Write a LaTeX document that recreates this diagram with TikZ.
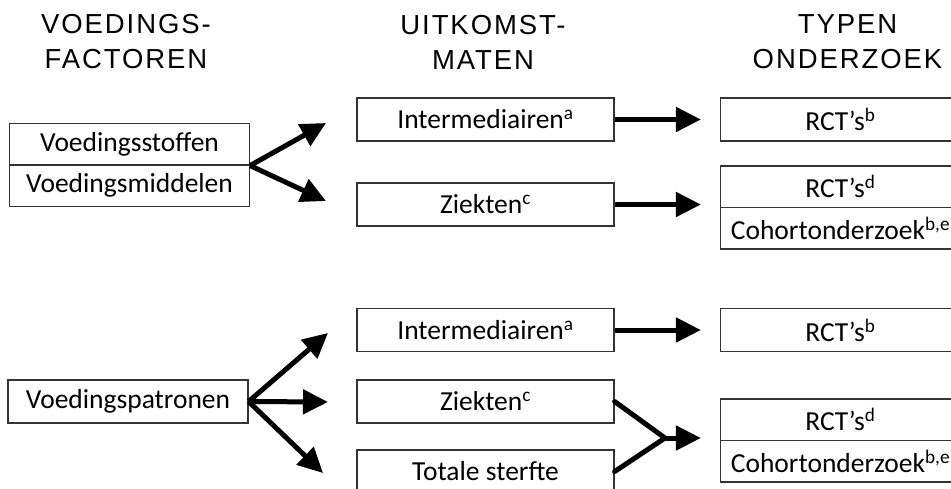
\documentclass[tikz,border=0pt]{standalone}
\usepackage{fontspec}
\usetikzlibrary{arrows.meta,positioning}
\newfontfamily\boxfont{Carlito}
\newfontfamily\headfont[LetterSpace=7]{Liberation Sans}

\begin{document}
\begin{tikzpicture}[x=1pt, y=-1pt,
  every node/.style={align=center, inner sep=0pt},
  head/.style={font=\headfont\fontsize{27.5}{35}\selectfont},
  box/.style={draw=black!80, line width=1.2pt, minimum height=43pt, font=\boxfont\fontsize{27.5}{32}\selectfont},
  halfbox/.style={box, minimum height=41.5pt},
  leftbox/.style={minimum width=240pt},
  midbox/.style={minimum width=257pt},
  rightbox/.style={minimum width=240pt},
  arr/.style={line width=5pt, -{Triangle[length=25pt,width=24pt]}},
  link/.style={line width=5pt, line cap=round}]
\useasboundingbox (0,0) rectangle (951,488);

% Column headings
\node[head] (hfactor) at (126,42) {VOEDINGS-\\FACTOREN};
\node[head] (hmaten) at (483,42) {UITKOMST-\\MATEN};
\node[head] (htypen) at (847.5,42) {TYPEN\\ONDERZOEK};

% Upper block
\node[halfbox, leftbox] (stoffen) at (129.5,144.25) {Voedingsstoffen};
\node[halfbox, leftbox] (middelen) at (129.5,185.75) {Voedingsmiddelen};
\node[box, midbox] (inter1) at (485.5,119.5) {Intermediairen\textsuperscript{a}};
\node[box, midbox] (ziek1) at (485.5,204.5) {Ziekten\textsuperscript{c}};
\node[box, rightbox] (rctb1) at (840.5,119.5) {RCT’s\textsuperscript{b}};
\node[halfbox, rightbox] (rctd1) at (840.5,186.75) {RCT’s\textsuperscript{d}};
\node[halfbox, rightbox] (cohort1) at (840.5,228.25) {Cohortonderzoek\textsuperscript{b,e}};

% Lower block
\node[box, leftbox] (patronen) at (128,401.5) {Voedingspatronen};
\node[box, midbox] (inter2) at (485.5,330) {Intermediairen\textsuperscript{a}};
\node[box, midbox] (ziek2) at (485.5,401.5) {Ziekten\textsuperscript{c}};
\node[box, midbox] (totaal) at (485.5,471.5) {Totale sterfte};
\node[box, rightbox] (rctb2) at (840.5,330) {RCT’s\textsuperscript{b}};
\node[halfbox, rightbox] (rctd2) at (840.5,419.75) {RCT’s\textsuperscript{d}};
\node[halfbox, rightbox] (cohort2) at (840.5,461.25) {Cohortonderzoek\textsuperscript{b,e}};

% Arrow ends
\coordinate (tipup1) at (326,123);
\coordinate (tipdown1) at (326,201);
\coordinate (tipup2) at (328,333);
\coordinate (tipmid2) at (328,402);
\coordinate (tipdown2) at (323,473);
\coordinate (join) at (665,438);

% Arrows
\draw[arr] (stoffen.south east) -- (tipup1);
\draw[arr] (stoffen.south east) -- (tipdown1);
\draw[arr, shorten >=19pt] (inter1.east) -- (rctb1.west);
\draw[arr, shorten >=19pt] (ziek1.east) -- (ziek1.east -| cohort1.west);
\draw[arr] (patronen.east) -- (tipup2);
\draw[arr] (patronen.east) -- (tipmid2);
\draw[arr] (patronen.east) -- (tipdown2);
\draw[arr, shorten >=19pt] (inter2.east) -- (rctb2.west);
\draw[link] (ziek2.east) -- (join);
\draw[link] (totaal.east) -- (join);
\draw[arr, shorten >=19pt] (join) -- (join -| cohort2.west);
\end{tikzpicture}
\end{document}
